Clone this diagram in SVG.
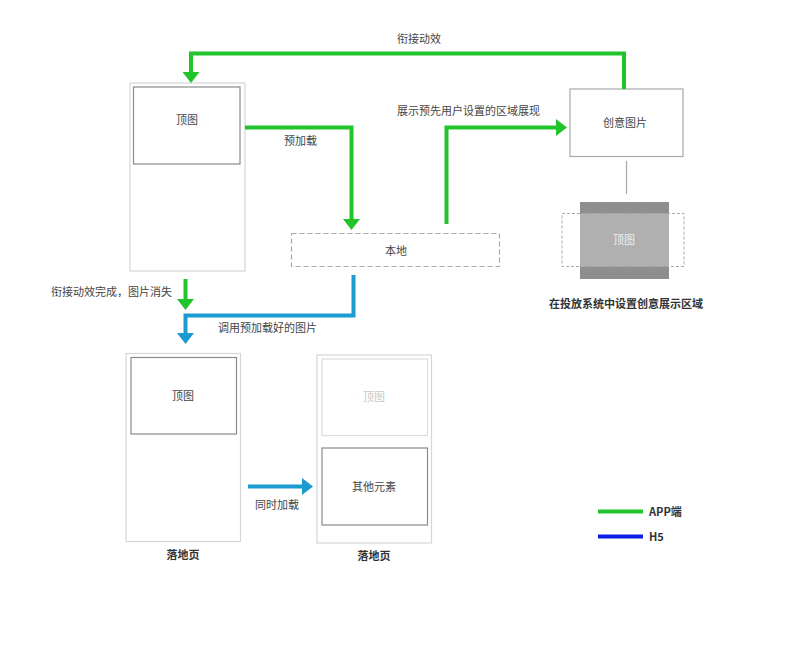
<svg xmlns="http://www.w3.org/2000/svg" width="800" height="649" viewBox="0 0 800 649">
<style>
text{font-family:"Noto Sans CJK SC","Liberation Sans",sans-serif;font-size:11px;fill:#444;}
.c{text-anchor:middle;}
.b{font-weight:bold;fill:#333;}
.page{fill:#fff;stroke:#d6d6d6;stroke-width:1.2;}
.img{fill:#fff;stroke:#8a8a8a;stroke-width:1.2;}
.g{fill:none;stroke:#22c42c;stroke-width:4;}
.bl{fill:none;stroke:#1b9bcf;stroke-width:4;}
</style>
<defs>
<marker id="ag" markerUnits="userSpaceOnUse" markerWidth="11" markerHeight="17" viewBox="0 0 11 17" refX="0" refY="8.5" orient="auto"><path d="M0,0 L11,8.5 L0,17 z" fill="#22c42c"/></marker>
<marker id="ab" markerUnits="userSpaceOnUse" markerWidth="11" markerHeight="17" viewBox="0 0 11 17" refX="0" refY="8.5" orient="auto"><path d="M0,0 L11,8.5 L0,17 z" fill="#1b9bcf"/></marker>
</defs>
<rect width="800" height="649" fill="#fff"/>

<g id="page-top">
<rect class="page" x="130" y="83" width="115" height="188"/>
<rect class="img" x="133.5" y="87" width="106.5" height="77"/>
<text class="c" x="187" y="124">顶图</text>
</g>

<g id="local">
<rect x="291.5" y="233.5" width="208" height="33" fill="#fff" stroke="#aaa" stroke-width="1.2" stroke-dasharray="5,3"/>
<text class="c" x="396" y="255">本地</text>
</g>

<g id="creative">
<rect x="570" y="89" width="113" height="67.5" fill="#fff" stroke="#aaa" stroke-width="1.2"/>
<text class="c" x="625" y="127">创意图片</text>
</g>

<g id="area">
<line x1="626.5" y1="161" x2="626.5" y2="194" stroke="#aaa" stroke-width="1.2"/>
<rect x="580" y="202" width="89" height="77" fill="#8e8e8e"/>
<rect x="562" y="213.5" width="122" height="53" fill="#fff" fill-opacity="0.3" stroke="#aaa" stroke-width="1" stroke-dasharray="3,2"/>
<text class="c" x="624" y="244" style="fill:#eee">顶图</text>
<text class="c b" x="626" y="308">在投放系统中设置创意展示区域</text>
</g>

<g id="landing1">
<rect class="page" x="126" y="353.5" width="114.5" height="188"/>
<rect class="img" x="131" y="357.5" width="105.5" height="76.5"/>
<text class="c" x="183" y="400">顶图</text>
<text class="c b" x="183" y="559">落地页</text>
</g>

<g id="landing2">
<rect class="page" x="317" y="355" width="114.5" height="188"/>
<rect x="322" y="359" width="105.5" height="76.5" fill="#fff" stroke="#ddd" stroke-width="1.2"/>
<text class="c" x="374" y="401" style="fill:#c8c8c8">顶图</text>
<rect class="img" x="322" y="448" width="105.5" height="77"/>
<text class="c" x="374" y="491">其他元素</text>
<text class="c b" x="374" y="560">落地页</text>
</g>

<g id="connectors">
<path class="g" d="M624,89 V53.5 H191 V72" marker-end="url(#ag)"/>
<path class="g" d="M245,127.5 H351.5 V219" marker-end="url(#ag)"/>
<path class="g" d="M446.5,224 V127.5 H556" marker-end="url(#ag)"/>
<path class="g" d="M185.5,279 V299" marker-end="url(#ag)"/>
<path class="bl" d="M353.5,275 V315.5 H185.5 V333" marker-end="url(#ab)"/>
<path class="bl" d="M248,486.5 H302" marker-end="url(#ab)"/>
<text class="c" x="419" y="43">衔接动效</text>
<text x="284" y="145">预加载</text>
<text x="397" y="115">展示预先用户设置的区域展现</text>
<text x="51" y="296">衔接动效完成，图片消失</text>
<text x="218" y="332">调用预加载好的图片</text>
<text class="c" x="277" y="509">同时加载</text>
</g>

<g id="legend">
<line x1="598" y1="511.5" x2="643" y2="511.5" stroke="#22c42c" stroke-width="4"/>
<text class="b" x="649" y="515.5">APP端</text>
<line x1="598" y1="536.5" x2="643" y2="536.5" stroke="#0a1ee6" stroke-width="4"/>
<text class="b" x="649" y="540.5">H5</text>
</g>
</svg>
